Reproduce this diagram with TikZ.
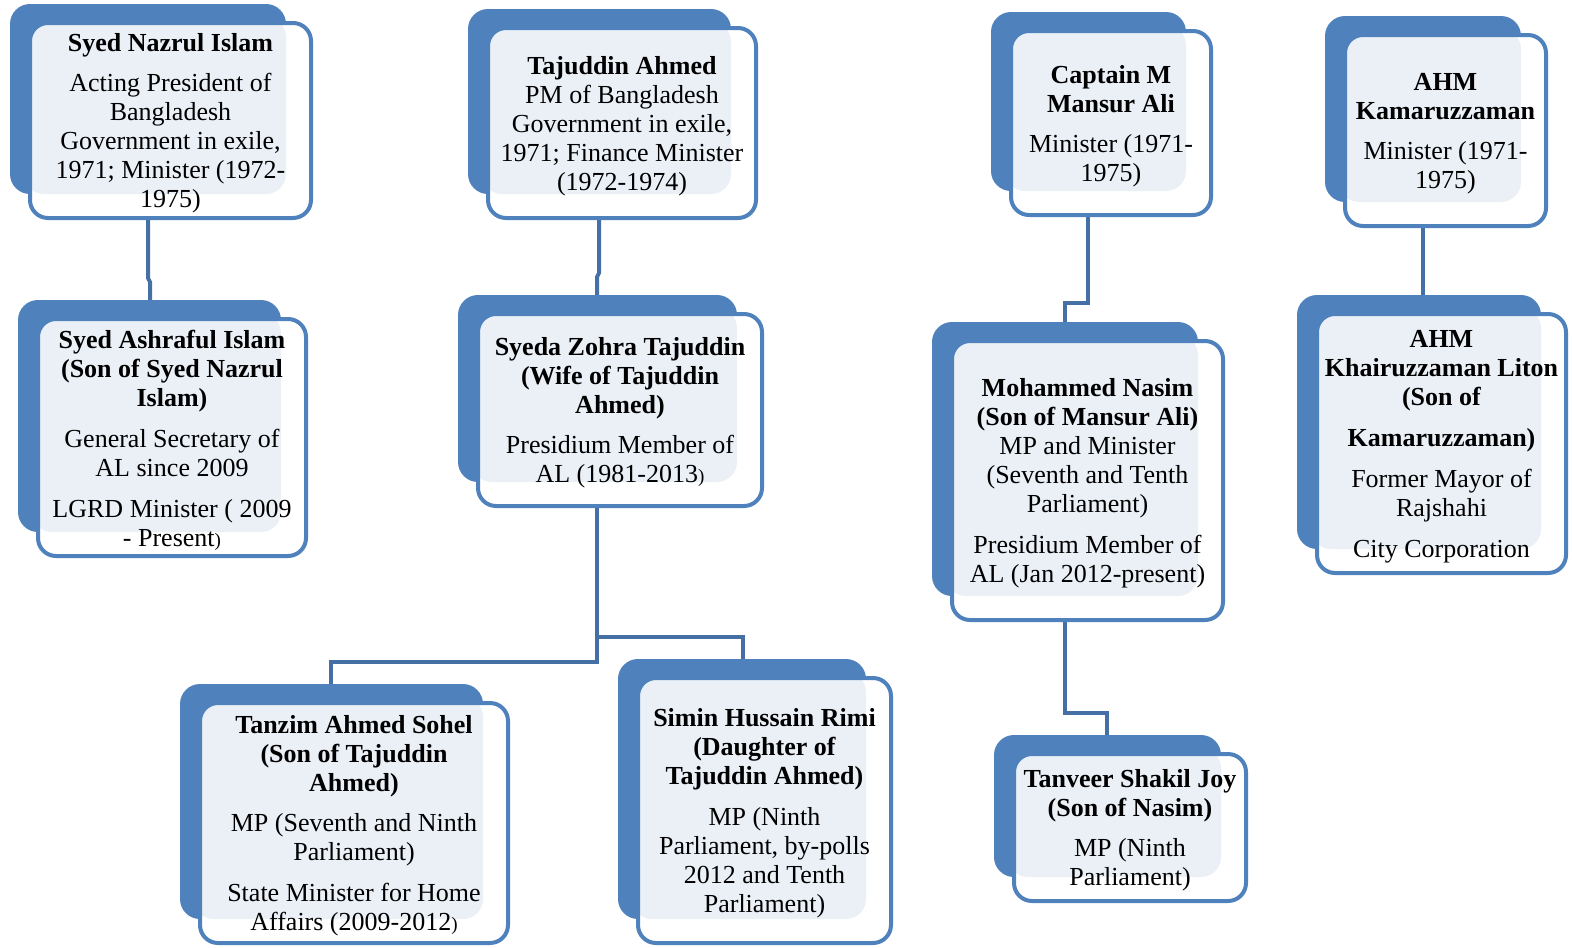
\documentclass[tikz,border=0pt]{standalone}
\usepackage{fontspec}
\setmainfont{Liberation Serif}
\usetikzlibrary{backgrounds}

\definecolor{cardblue}{HTML}{4F81BD}
\definecolor{cardtint}{HTML}{EBF0F7}
\definecolor{linkblue}{HTML}{4470A6}
\newcommand{\tinyclose}{{\fontsize{19}{29}\selectfont)}}
\newcommand{\cardname}[1]{\rule{0pt}{24pt}\textbf{#1}}

\tikzset{
  cardfront/.style={draw=cardblue, fill=white, line width=4pt, rounded corners=18pt,
    outer sep=0pt, inner sep=0pt, align=center, font=\fontsize{26}{29}\selectfont,
    path picture={\fill[cardtint, rounded corners=20pt]
      ([shift={(-6,-6)}]path picture bounding box.north west) rectangle
      ([shift={(-25,-24)}]path picture bounding box.south east);}},
  cardback/.style={fill=cardblue, rounded corners=20pt},
  link/.style={draw=linkblue, line width=4pt},
}

\begin{document}
\begin{tikzpicture}[x=1pt,y=-1pt]
\useasboundingbox (0,0) rectangle (1572,948);
% first generation
\node[cardfront, minimum width=281pt, minimum height=195pt] (nazrul) at (170.5,120.5) {\cardname{Syed Nazrul Islam}\\[11pt]Acting President of\\Bangladesh\\Government in exile,\\1971; Minister (1972-\\1975)};
\node[cardfront, minimum width=268pt, minimum height=190pt] (tajuddin) at (622,123) {\cardname{Tajuddin Ahmed}\\PM of Bangladesh\\Government in exile,\\1971; Finance Minister\\(1972-1974)};
\node[cardfront, minimum width=200pt, minimum height=184pt] (mansur) at (1111,123) {\cardname{Captain M}\\\textbf{Mansur Ali}\\[11pt]Minister (1971-\\1975)};
\node[cardfront, minimum width=201pt, minimum height=191pt] (kamar) at (1445.5,130.5) {\cardname{AHM}\\\textbf{Kamaruzzaman}\\[11pt]Minister (1971-\\1975)};
% second generation
\node[cardfront, minimum width=268pt, minimum height=237pt] (ashraful) at (172,437.5) {\cardname{Syed Ashraful Islam}\\\textbf{(Son of Syed Nazrul}\\\textbf{Islam)}\\[12pt]General Secretary of\\AL since 2009\\[12pt]LGRD Minister ( 2009\\- Present\tinyclose};
\node[cardfront, minimum width=284pt, minimum height=192pt] (zohra) at (620,410) {\cardname{Syeda Zohra Tajuddin}\\\textbf{(Wife of Tajuddin}\\\textbf{Ahmed)}\\[11pt]Presidium Member of\\AL (1981-2013\tinyclose};
\node[cardfront, minimum width=271pt, minimum height=279pt] (nasim) at (1087.5,480.5) {\cardname{Mohammed Nasim}\\\textbf{(Son of Mansur Ali)}\\MP and Minister\\(Seventh and Tenth\\Parliament)\\[12pt]Presidium Member of\\AL (Jan 2012-present)};
\node[cardfront, minimum width=249pt, minimum height=259pt] (liton) at (1441.5,443.5) {\cardname{AHM}\\\textbf{Khairuzzaman Liton}\\\textbf{(Son of}\\[12pt]\textbf{Kamaruzzaman)}\\[12pt]Former Mayor of\\Rajshahi\\[12pt]City Corporation};
% third generation
\node[cardfront, minimum width=308pt, minimum height=240pt] (sohel) at (354,823) {\cardname{Tanzim Ahmed Sohel}\\\textbf{(Son of Tajuddin}\\\textbf{Ahmed)}\\[11pt]MP (Seventh and Ninth\\Parliament)\\[12pt]State Minister for Home\\Affairs (2009-2012\tinyclose};
\node[cardfront, minimum width=253pt, minimum height=265pt] (rimi) at (764.5,810.5) {\cardname{Simin Hussain Rimi}\\\textbf{(Daughter of}\\\textbf{Tajuddin Ahmed)}\\[12pt]MP (Ninth\\Parliament, by-polls\\2012 and Tenth\\Parliament)};
\node[cardfront, minimum width=232pt, minimum height=147pt] (joy) at (1130,827.5) {\cardname{Tanveer Shakil Joy}\\\textbf{(Son of Nasim)}\\[11pt]MP (Ninth\\Parliament)};

\begin{scope}[on background layer]
% family lines
\draw[link] ([shift={(-22.5,0)}]nazrul.south) -- ++(0,60) -- ++(2,4) -- ([shift={(-22,0)}]ashraful.north);
\draw[link] ([shift={(-23,0)}]tajuddin.south) -- ++(0,55) -- ++(-2,4) -- ([shift={(-23,0)}]zohra.north);
\draw[link] ([shift={(-23,0)}]mansur.south) -- ++(0,88) -| ([shift={(-22.5,0)}]nasim.north);
\draw[link] ([shift={(-22.5,0)}]kamar.south) -- ([shift={(-22.5,0)}]kamar.south |- liton.north);
\draw[link] ([shift={(-23,0)}]zohra.south) -- ++(0,156) -| ([shift={(-23,0)}]sohel.north);
\draw[link] ([shift={(-23,131)}]zohra.south) -| ([shift={(-21.5,0)}]rimi.north);
\draw[link] ([shift={(-22.5,0)}]nasim.south) -- ++(0,93) -| ([shift={(-23,0)}]joy.north);
% blue backs
\foreach \card in {nazrul,tajuddin,mansur,kamar,ashraful,zohra,nasim,liton,sohel,rimi,joy}
  \fill[cardback] ([shift={(-20,-19)}]\card.north west) rectangle ([shift={(-25,-24)}]\card.south east);
\end{scope}
\end{tikzpicture}
\end{document}
